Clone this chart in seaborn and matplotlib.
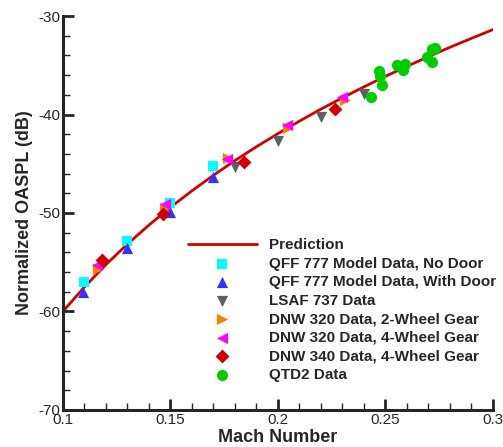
import matplotlib
matplotlib.use("Agg")
import matplotlib.pyplot as plt
import seaborn as sns
import pandas as pd
from matplotlib.ticker import MultipleLocator

sns.set_style("ticks")
plt.rcParams['font.family'] = ['Liberation Sans', 'DejaVu Sans']
plt.rcParams['axes.unicode_minus'] = False

# Prediction curve
pred_m = [0.10, 0.11, 0.12, 0.13, 0.14, 0.15, 0.16, 0.17, 0.18, 0.19, 0.20,
          0.21, 0.22, 0.23, 0.24, 0.25, 0.26, 0.27, 0.28, 0.29, 0.30]
pred_db = [-60.00, -57.52, -55.25, -53.16, -51.23, -49.43, -47.75, -46.17, -44.68, -43.27, -41.94,
           -40.67, -39.45, -38.30, -37.19, -36.12, -35.10, -34.12, -33.17, -32.26, -31.37]

qff_nodoor_m = [0.110, 0.130, 0.150, 0.170]
qff_nodoor_db = [-57.0, -52.8, -49.0, -45.2]

qff_door_m = [0.1095, 0.130, 0.150, 0.170]
qff_door_db = [-58.0, -53.6, -49.9, -46.3]

lsaf_m = [0.180, 0.200, 0.220, 0.240]
lsaf_db = [-45.3, -42.7, -40.2, -37.9]

dnw2_m = [0.1164, 0.1474, 0.1769, 0.2048, 0.2312]
dnw2_db = [-55.7, -49.5, -44.4, -41.4, -38.5]

dnw4_m = [0.1157, 0.1474, 0.1761, 0.2043, 0.2299]
dnw4_db = [-55.3, -49.1, -44.5, -41.1, -38.2]

dnw340_m = [0.118, 0.1467, 0.1843, 0.2265]
dnw340_db = [-54.8, -50.1, -44.8, -39.4]

qtd2_m = [0.2433, 0.2482, 0.2471, 0.2474, 0.2552, 0.2591, 0.2583, 0.2715, 0.2730, 0.2695, 0.2715]
qtd2_db = [-38.2, -37.0, -35.6, -36.1, -35.0, -34.9, -35.5, -33.3, -33.2, -34.2, -34.7]

fig, ax = plt.subplots(figsize=(5.03, 4.47), dpi=100)
fig.subplots_adjust(left=0.125, right=0.980, bottom=0.083, top=0.964)

sns.lineplot(x=pred_m, y=pred_db, ax=ax, color='#d00000', lw=2, label='Prediction', sort=False)

series = [
    (qff_nodoor_m, qff_nodoor_db, 'QFF 777 Model Data, No Door', 's', '#00ffff', 60),
    (qff_door_m, qff_door_db, 'QFF 777 Model Data, With Door', '^', '#3333ff', 65),
    (lsaf_m, lsaf_db, 'LSAF 737 Data', 'v', '#606060', 65),
    (dnw2_m, dnw2_db, 'DNW 320 Data, 2-Wheel Gear', '>', '#ff8000', 65),
    (dnw4_m, dnw4_db, 'DNW 320 Data, 4-Wheel Gear', '<', '#ff00ff', 65),
    (dnw340_m, dnw340_db, 'DNW 340 Data, 4-Wheel Gear', 'D', '#cc0000', 50),
    (qtd2_m, qtd2_db, 'QTD2 Data', 'o', '#00cc00', 65),
]
for xs, ys, lab, mk, col, s in series:
    sns.scatterplot(x=xs, y=ys, ax=ax, marker=mk, color=col, s=s, linewidth=0, label=lab, zorder=3)

ax.set_xlim(0.1, 0.3)
ax.set_ylim(-70, -30)
ax.xaxis.set_minor_locator(MultipleLocator(0.01))
ax.yaxis.set_major_locator(MultipleLocator(10))
ax.yaxis.set_minor_locator(MultipleLocator(2))
ax.set_xticks([0.1, 0.15, 0.2, 0.25, 0.3])
ax.set_xticklabels(['0.1', '0.15', '0.2', '0.25', '0.3'])
ax.tick_params(which='major', direction='in', length=8, width=2, labelsize=11, pad=2)
ax.tick_params(which='minor', direction='in', length=5, width=1.0)
sns.despine(ax=ax, top=True, right=True)
for sp in ['left', 'bottom']:
    ax.spines[sp].set_linewidth(2.2)
ax.set_xlabel('Mach Number', fontsize=13, fontweight='bold', labelpad=2)
ax.set_ylabel('Normalized OASPL (dB)', fontsize=13, fontweight='bold', labelpad=4)

leg = ax.legend(loc='upper left', bbox_to_anchor=(0.277, 0.452), frameon=False,
                prop={'weight': 'bold', 'size': 11}, handlelength=4.5, handletextpad=0.8,
                labelspacing=0.3, borderaxespad=0)

fig.savefig('out.png', dpi=100)
